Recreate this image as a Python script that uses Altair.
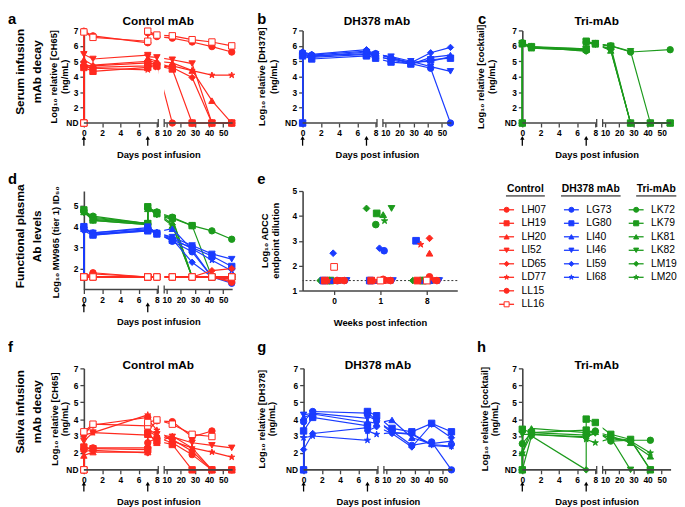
import altair as alt
import pandas as pd

FONT = "Liberation Sans"
RED = "#FF2A1F"
BLUE = "#1A3CFF"
GREEN = "#1C9A1C"
AXC = "#444444"
STAR = ("M0,-1L0.22,-0.31L0.95,-0.31L0.36,0.12L0.59,0.81L0,0.38L-0.59,0.81"
        "L-0.36,0.12L-0.95,-0.31L-0.22,-0.31Z")

# ---------------- animals ----------------
control_ids = ["LH07", "LH19", "LH20", "LI52", "LD65", "LD77", "LL15", "LL16"]
dh_ids = ["LG73", "LG80", "LI40", "LI46", "LI59", "LI68"]
tri_ids = ["LK72", "LK79", "LK81", "LK82", "LM19", "LM20"]
control_shapes = ["circle", "square", "triangle-up", "triangle-down", "diamond", STAR, "circle", "square"]
control_open = [False, False, False, False, False, False, False, True]
six_shapes = ["circle", "square", "triangle-up", "triangle-down", "diamond", STAR]
six_open = [False, False, False, False, False, False]

# sampling days (day 0 pre/post, day 7 pre/post second infusion)
days = [0, 0, 1, 7, 7, 8, 14, 28, 42, 56]
infusion_days = [0, 7]
x_tick_days = [0, 2, 4, 6, 8, 10, 20, 30, 40, 50]

# ---------------- a: serum, control mAb (log10 ng/mL, 1 = ND) ----------------
a_vals = {
    "LH07": [1, 4.7, 4.6, 4.7, 4.9, 4.8, 1, 1, 1, 1],
    "LH19": [1, 4.6, 4.35, 4.6, 4.8, 4.7, 4.5, 1, 1, 1],
    "LH20": [1, 5.1, 4.75, 5.0, 5.2, 5.0, 4.9, 4.4, 2.45, 1],
    "LI52": [1, 5.45, 5.15, 5.4, 5.3, 5.25, 5.1, 4.85, 1, 1],
    "LD65": [1, 4.75, 4.7, 4.9, 5.05, 4.9, 4.6, 3.95, 1, 1],
    "LD77": [1, 4.65, 4.55, 4.45, 4.7, 4.6, 4.7, 4.4, 4.1, 4.1],
    "LL15": [1, 6.95, 6.65, 6.2, 6.85, 6.6, 6.5, 6.25, 5.95, 5.6],
    "LL16": [1, 6.9, 6.55, 6.3, 6.95, 6.7, 6.65, 6.4, 6.25, 6.0],
}
# ---------------- b: serum, DH378 ----------------
b_vals = {
    "LG73": [1, 5.55, 5.4, 5.65, 5.6, 5.5, 5.2, 4.85, 4.55, 1],
    "LG80": [1, 5.35, 5.15, 5.35, 5.4, 5.2, 4.95, 4.85, 5.1, 5.2],
    "LI40": [1, 5.45, 5.35, 5.5, 5.55, 5.35, 5.1, 4.8, 5.25, 5.4],
    "LI46": [1, 5.5, 5.3, 5.6, 5.55, 5.45, 5.3, 5.0, 4.65, 4.35],
    "LI59": [1, 5.6, 5.45, 5.75, 5.7, 5.5, 5.25, 4.9, 5.55, 5.9],
    "LI68": [1, 5.4, 5.25, 5.45, 5.5, 5.3, 5.15, 4.95, 5.0, 5.3],
}
# ---------------- c: serum, Tri-mAb ----------------
c_vals = {
    "LK72": [1, 6.2, 5.9, 5.7, 6.25, 6.15, 6.0, 5.6, None, 5.75],
    "LK79": [1, 6.15, 5.95, 5.8, 6.3, 6.15, 5.95, 1, 1, 1],
    "LK81": [1, 6.2, 5.85, 5.75, 6.3, 6.1, 5.7, 1, 1, 1],
    "LK82": [1, 6.15, 5.9, 5.8, 6.25, 6.15, 6.0, 5.65, 1, 1],
    "LM19": [1, 6.2, 5.95, 5.65, 6.2, 6.1, 5.75, 1, 1, 1],
    "LM20": [1, 6.1, 5.85, 5.7, 6.25, 6.1, 5.8, 1, 1, 1],
}
# ---------------- d: plasma MW965 ID50 ----------------
d_control = {
    "LH07": [1.6, 1.6, 1.8, 1.6, 1.6, 1.6, 1.6, 1.6, 1.6, 1.6],
    "LH19": [1.6, 1.6, 1.6, 1.6, 1.6, 1.6, 1.6, 1.6, 1.6, 1.6],
    "LH20": [1.6, 1.6, 1.6, 1.6, 1.6, 1.6, 1.6, 1.6, 1.6, 1.5],
    "LI52": [1.6, 1.6, 1.6, 1.6, 1.6, 1.6, 1.6, 1.6, 1.6, 1.6],
    "LD65": [1.6, 1.6, 1.6, 1.6, 1.6, 1.6, 1.6, 1.6, 1.9, 2.0],
    "LD77": [1.6, 1.6, 1.6, 1.6, 1.6, 1.6, 1.6, 1.6, 1.6, 1.4],
    "LL15": [1.6, 1.6, 1.75, 1.6, 1.6, 1.6, 1.6, 1.6, 1.6, 1.35],
    "LL16": [1.6, 1.6, 1.6, 1.6, 1.6, 1.6, 1.6, 1.6, 1.6, 1.6],
}
d_dh = {
    "LG73": [1.6, 3.95, 3.7, 3.9, 3.95, 3.7, 3.3, 2.8, 1.6, 1.3],
    "LG80": [1.6, 4.0, 3.6, 3.8, 3.85, 3.65, 3.35, 3.0, 2.6, 2.1],
    "LI40": [1.6, 3.9, 3.65, 3.85, 3.9, 3.75, 3.9, 2.9, 1.6, 1.6],
    "LI46": [1.6, 3.85, 3.7, 3.95, 4.0, 3.7, 3.5, 3.1, 2.7, 2.45],
    "LI59": [1.6, 3.8, 3.6, 3.85, 3.9, 3.65, 3.4, 2.3, 1.6, 1.5],
    "LI68": [1.6, 3.95, 3.65, 3.8, 3.95, 3.7, 3.45, 2.95, 2.4, 1.9],
}
d_tri = {
    "LK72": [None, 4.75, 4.5, 4.15, 4.9, 4.7, 4.45, 4.05, 3.8, 3.4],
    "LK79": [None, 4.8, 4.35, 4.15, 4.95, 4.65, 4.4, 4.05, 1.6, 1.6],
    "LK81": [None, 4.7, 4.3, 4.1, 4.85, 4.6, 4.05, 1.6, 1.6, 1.6],
    "LK82": [None, 4.65, 4.45, 4.15, 4.9, 4.55, 4.35, 1.6, 1.6, 1.6],
    "LM19": [None, 4.8, 4.3, 4.1, 4.85, 4.7, 4.1, 1.6, 1.6, 1.6],
    "LM20": [None, 4.7, 4.4, 4.15, 4.9, 4.6, 4.4, 1.6, 1.6, 1.6],
}
# ---------------- e: ADCC endpoint (weeks 0, 1, 8) ----------------
weeks = ["0", "1", "8"]
adcc_lod = [1.4]
e_control = {
    "LH07": [1.4, 1.45, 1.55], "LH19": [1.4, 1.4, 1.4], "LH20": [1.4, 1.4, 2.5],
    "LI52": [1.4, 1.4, 1.4], "LD65": [1.4, 1.4, 3.1], "LD77": [1.4, 1.4, 2.85],
    "LL15": [1.4, 1.4, 1.4], "LL16": [1.95, 1.4, 1.4],
}
e_dh = {
    "LG73": [1.4, 2.6, 1.4], "LG80": [1.4, 1.4, 3.0], "LI40": [1.4, 1.4, 1.4],
    "LI46": [1.4, 1.4, 1.4], "LI59": [2.5, 2.7, 1.4], "LI68": [1.4, 1.4, 1.4],
}
e_tri = {
    "LK72": [1.4, 3.65, 1.4], "LK79": [1.4, 4.1, 1.4], "LK81": [1.4, 4.05, 1.4],
    "LK82": [1.4, 4.3, 1.4], "LM19": [1.4, 4.3, 1.4], "LM20": [1.4, 3.8, 1.4],
}
e_jitter = {
    "LH07": 0.06, "LH19": -0.2, "LH20": 0.06, "LI52": 0.15, "LD65": 0.06, "LD77": -0.13,
    "LL15": 0.22, "LL16": 0.0,
    "LG73": 0.08, "LG80": -0.23, "LI40": -0.05, "LI46": 0.27, "LI59": -0.02, "LI68": 0.13,
    "LK72": -0.1, "LK79": -0.08, "LK81": 0.06, "LK82": 0.24, "LM19": -0.3, "LM20": 0.09,
}
# ---------------- f: saliva, control ----------------
f_vals = {
    "LH07": [1, 2.2, 2.3, 2.3, 2.6, 2.9, 2.6, 1.9, 1, 1],
    "LH19": [1, 2.35, 2.25, 2.2, 3.1, 2.7, 2.5, 1, 1, 1],
    "LH20": [1, 1.85, 2.05, 2.05, 3.2, 2.6, 3.0, 2.3, 1, 1],
    "LI52": [1, 2.7, 3.2, 3.05, 3.4, 3.1, 2.95, 2.6, 2.45, 2.3],
    "LD65": [1, 2.1, 2.15, 2.0, 3.3, 3.0, 2.8, 2.1, 1, 1],
    "LD77": [1, 3.05, 3.2, 4.25, 4.0, 3.35, 2.7, 2.3, 2.05, 1.75],
    "LL15": [1, 3.1, 3.65, 4.1, 3.3, 3.9, 3.85, 2.95, 3.3, None],
    "LL16": [1, 3.25, 3.7, 3.6, 3.8, 3.95, 3.7, 3.1, 2.97, None],
}
# ---------------- g: saliva, DH378 ----------------
g_vals = {
    "LG73": [1, 3.85, 4.45, 4.35, 4.4, 3.9, 3.3, 2.45, 2.65, 1],
    "LG80": [1, 3.3, 4.1, 3.6, 4.45, 4.2, 3.45, 3.25, 3.75, 3.25],
    "LI40": [1, 4.1, 4.3, 3.8, 3.85, 3.75, 3.95, 2.9, 2.55, 2.7],
    "LI46": [1, 4.25, 4.35, 4.05, 4.2, 3.9, 3.2, 3.1, 2.45, 2.35],
    "LI59": [1, 2.2, 3.15, 3.5, 3.3, 3.55, 3.15, 2.35, 3.7, 2.9],
    "LI68": [1, 2.9, 3.0, 2.75, 3.3, 3.1, 3.2, 3.15, 2.5, 2.4],
}
# ---------------- h: saliva, Tri-mAb ----------------
h_vals = {
    "LK72": [1, 2.55, 3.2, 3.05, 3.1, 3.3, 2.7, 2.75, 2.75, None],
    "LK79": [1, 3.4, 3.2, 3.35, 4.0, 3.8, 3.1, 2.8, 1, None],
    "LK81": [1, 2.0, 3.45, 3.2, 3.3, 3.25, 3.0, 2.6, 1.8, None],
    "LK82": [1, 3.1, 3.1, 2.95, 2.95, 3.15, 2.9, 1, 1, None],
    "LM19": [1, 1, 3.0, 1, 3.0, 3.2, 2.9, 2.75, 1, None],
    "LM20": [1, 2.0, 3.1, 2.9, 2.8, 2.6, 2.85, 2.7, 2.0, None],
}

# ---------------- broken x axis (0-8 wide, 10-56 compressed) ----------------
GAP = 1.07
K = 0.155
XMAX = 16.3
x_break = [8.15, 8.8]


def pos(d):
    return float(d) if d <= 8 else 8 + GAP + (d - 10) * K


x_tick_pos = [pos(d) for d in x_tick_days]
x_label_expr = ("datum.value < 8.5 ? format(datum.value, 'd') : "
                f"format(round((datum.value - {8 + GAP}) / {K} + 10), 'd')")


def rows_for(vals, ids, shapes, opens, color):
    out = []
    for i, a in enumerate(ids):
        for j, (d, v) in enumerate(zip(days, vals[a])):
            if v is None:
                continue
            out.append(dict(animal=a, k=j, x=pos(d), y=v, shape=shapes[i],
                            stroke=color, fill=("white" if opens[i] else color)))
    return out


def text_layer(txt, x, y, size, weight="bold", align="left", baseline="alphabetic",
               angle=0, opacity=1.0):
    kw = dict(font=FONT, fontWeight=weight, fontSize=size, align=align,
              baseline=baseline, angle=angle, opacity=opacity, color="black")
    return alt.Chart(pd.DataFrame({"t": [txt]})).mark_text(**kw).encode(
        x=alt.value(x), y=alt.value(y), text="t:N")


def vtitle(lines, xs, yc, size):
    return [text_layer(t, x, yc, size, align="center", baseline="middle", angle=270)
            for t, x in zip(lines, xs)]


def line_panel(df, w, h, ydom, yvals, ylab_expr, ytitle, ytitle_xs, letter, letter_x,
               letter_y, head=None, head_y=None, row_title=None, row_xs=None, row_y=None,
               arrow_y=15, ytitle_y=None):
    X = alt.X("x:Q", scale=alt.Scale(domain=[0, XMAX], nice=False, zero=False),
              axis=alt.Axis(values=x_tick_pos, labelExpr=x_label_expr,
                            title="Days post infusion", domain=False, titleY=35,
                            titleBaseline="alphabetic", labelFlush=False))
    Y = alt.Y("y:Q", scale=alt.Scale(domain=ydom, nice=False, zero=False),
              axis=alt.Axis(values=yvals, labelExpr=ylab_expr, title=None))
    lines = alt.Chart(df).mark_line(strokeWidth=1.2).encode(
        x=X, y=Y, detail="animal:N", order="k:Q", stroke=alt.Stroke("stroke:N", scale=None))
    brk = alt.Chart(pd.DataFrame({"x": [x_break[0]], "x2": [x_break[1]]})).mark_rect(
        color="white").encode(x=X, x2="x2:Q", y=alt.value(-3), y2=alt.value(h + 1))
    pts = alt.Chart(df).mark_point(filled=True, size=42, strokeWidth=1, opacity=1).encode(
        x=X, y=Y, shape=alt.Shape("shape:N", scale=None),
        fill=alt.Fill("fill:N", scale=None), stroke=alt.Stroke("stroke:N", scale=None))
    seg = alt.Chart(pd.DataFrame({"x": [0, x_break[1]], "x2": [x_break[0], XMAX]})).mark_rule(
        color=AXC, strokeWidth=1.6).encode(x=X, x2="x2:Q", y=alt.value(h))
    segend = alt.Chart(pd.DataFrame({"x": [x_break[0], x_break[1]]})).mark_rule(
        color=AXC, strokeWidth=1.3).encode(x=X, y=alt.value(h - 4), y2=alt.value(h + 4))
    arr = pd.DataFrame({"x": [pos(d) for d in infusion_days]})
    heads = alt.Chart(arr).mark_point(shape="triangle-up", filled=True, color="black",
                                      size=20, opacity=1).encode(x=X, y=alt.value(h + arrow_y))
    stems = alt.Chart(arr).mark_rule(color="black", strokeWidth=1.3).encode(
        x=X, y=alt.value(h + arrow_y + 1), y2=alt.value(h + arrow_y + 8))
    layers = [lines, brk, pts, seg, segend, heads, stems,
              text_layer(letter, letter_x, letter_y, 15)]
    layers += vtitle(ytitle, ytitle_xs, h / 2 if ytitle_y is None else ytitle_y, 9.5)
    if head is not None:
        layers.append(text_layer(head, w / 2, head_y, 12, align="center"))
    if row_title is not None:
        layers += vtitle(row_title, row_xs, row_y, 12)
    return alt.layer(*layers).properties(width=w, height=h)


nd_expr = "datum.value == 1 ? 'ND' : format(datum.value, 'd')"
seven = [1, 2, 3, 4, 5, 6, 7]

df_a = pd.DataFrame(rows_for(a_vals, control_ids, control_shapes, control_open, RED))
df_b = pd.DataFrame(rows_for(b_vals, dh_ids, six_shapes, six_open, BLUE))
df_c = pd.DataFrame(rows_for(c_vals, tri_ids, six_shapes, six_open, GREEN))
df_d = pd.DataFrame(rows_for(d_tri, tri_ids, six_shapes, six_open, GREEN)
                    + rows_for(d_dh, dh_ids, six_shapes, six_open, BLUE)
                    + rows_for(d_control, control_ids, control_shapes, control_open, RED))
df_f = pd.DataFrame(rows_for(f_vals, control_ids, control_shapes, control_open, RED))
df_g = pd.DataFrame(rows_for(g_vals, dh_ids, six_shapes, six_open, BLUE))
df_h = pd.DataFrame(rows_for(h_vals, tri_ids, six_shapes, six_open, GREEN))

W = 151
H1 = 94
H2 = 100
H3 = 103

pa = line_panel(df_a, W, H1, [1, 7], seven, nd_expr,
                ["Log₁₀ relative [CH65]", "(ng/mL)"], [-30, -19], "a", -77, -7,
                head="Control mAb", head_y=-6,
                row_title=["Serum infusion", "mAb decay"], row_xs=[-65, -47], row_y=42)
pb = line_panel(df_b, W, H1, [1, 7], seven, nd_expr,
                ["Log₁₀ relative [DH378]", "(ng/mL)"], [-41, -29], "b", -46, -7,
                head="DH378 mAb", head_y=-6)
pc = line_panel(df_c, W, H1, [1, 7], seven, nd_expr,
                ["Log₁₀ relative [cocktail]", "(ng/mL)"], [-42, -31], "c", -45, -7,
                head="Tri-mAb", head_y=-6)

pd_ = line_panel(df_d, W, H2, [1, 5.7], [2, 3, 4, 5], "format(datum.value, 'd')",
                 ["Log₁₀ MW965 (tier 1) ID₅₀"], [-28], "d", -77, -7,
                 row_title=["Functional plasma", "Ab levels"], row_xs=[-65, -47], row_y=46,
                 ytitle_y=52)

# ----- e scatter -----
e_rows = []
for grp, ids, shapes, opens, color in [(e_tri, tri_ids, six_shapes, six_open, GREEN),
                                       (e_dh, dh_ids, six_shapes, six_open, BLUE),
                                       (e_control, control_ids, control_shapes, control_open, RED)]:
    for i, a in enumerate(ids):
        for gi, v in enumerate(grp[a]):
            e_rows.append(dict(animal=a, x=gi + e_jitter[a], y=v, shape=shapes[i],
                               stroke=color, fill=("white" if opens[i] else color)))
df_e = pd.DataFrame(e_rows)
EW, EH = 157, 101
EX = alt.X("x:Q", scale=alt.Scale(domain=[-0.68, 2.66], nice=False, zero=False),
           axis=alt.Axis(values=[0, 1, 2], labelExpr="['0','1','8'][datum.value]",
                         title="Weeks post infection", titleY=35, titleBaseline="alphabetic"))
EY = alt.Y("y:Q", scale=alt.Scale(domain=[1, 5], nice=False, zero=False),
           axis=alt.Axis(values=[1, 2, 3, 4, 5], format="d", title=None))
e_lod = alt.Chart(pd.DataFrame({"y": adcc_lod})).mark_rule(
    color="#333", strokeDash=[2, 2], strokeWidth=1).encode(y=EY)
e_pts = alt.Chart(df_e).mark_point(filled=True, size=46, strokeWidth=1, opacity=1).encode(
    x=EX, y=EY, shape=alt.Shape("shape:N", scale=None),
    fill=alt.Fill("fill:N", scale=None), stroke=alt.Stroke("stroke:N", scale=None))
pe = alt.layer(e_lod, e_pts, text_layer("e", -46, -7, 15),
               *vtitle(["Log₁₀ ADCC", "endpoint dilution"], [-38, -27], EH / 2, 9.5)
               ).properties(width=EW, height=EH)

# ----- legend -----
leg_groups = [("Control", control_ids, control_shapes, control_open, RED),
              ("DH378 mAb", dh_ids, six_shapes, six_open, BLUE),
              ("Tri-mAb", tri_ids, six_shapes, six_open, GREEN)]
header_halfw = [0.3, 0.46, 0.31]
header_off = [0.29, 0.3, 0.31]
leg_rows, head_rows = [], []
for ci, (hname, ids, shapes, opens, color) in enumerate(leg_groups):
    head_rows.append(dict(x=ci + header_off[ci], x1=ci + header_off[ci] - header_halfw[ci],
                          x2=ci + header_off[ci] + header_halfw[ci], t=hname))
    for ri, a in enumerate(ids):
        leg_rows.append(dict(name=a, x=ci, xa=ci - 0.115, xb=ci + 0.115, r=ri,
                             shape=shapes[ri], stroke=color,
                             fill=("white" if opens[ri] else color)))
df_leg = pd.DataFrame(leg_rows)
df_head = pd.DataFrame(head_rows)
LW, LH = 190, 118
LSCALE = alt.Scale(domain=[-0.29, 2.6], nice=False, zero=False)
LX = alt.X("x:Q", scale=LSCALE, axis=None)
LY = alt.Y("r:Q", scale=alt.Scale(domain=[-1.39, 7.22], nice=False, zero=False,
                                  reverse=True), axis=None)
leg_line = alt.Chart(df_leg).mark_rule(strokeWidth=1.3).encode(
    x=alt.X("xa:Q", scale=LSCALE, axis=None), x2="xb:Q", y=LY,
    stroke=alt.Stroke("stroke:N", scale=None))
leg_pts = alt.Chart(df_leg).mark_point(filled=True, size=26, strokeWidth=1, opacity=1).encode(
    x=LX, y=LY, shape=alt.Shape("shape:N", scale=None),
    fill=alt.Fill("fill:N", scale=None), stroke=alt.Stroke("stroke:N", scale=None))
leg_txt = alt.Chart(df_leg).mark_text(font=FONT, fontSize=10.5, align="left",
                                      baseline="middle", dx=15, color="black").encode(
    x=LX, y=LY, text="name:N")
leg_head = alt.Chart(df_head).mark_text(font=FONT, fontSize=10.5, fontWeight="bold",
                                        align="center", baseline="middle",
                                        color="black").encode(x=LX, y=alt.value(-2), text="t:N")
leg_ul = alt.Chart(df_head).mark_rule(color="black", strokeWidth=1).encode(
    x=alt.X("x1:Q", scale=LSCALE, axis=None), x2="x2:Q", y=alt.value(5))
leg_anchor = text_layer("d", -10, -7, 15, opacity=0)
pleg = alt.layer(leg_line, leg_pts, leg_txt, leg_head, leg_ul, leg_anchor).properties(
    width=LW, height=LH)

pf = line_panel(df_f, W, H3, [1, 7], seven, nd_expr,
                ["Log₁₀ relative [CH65]", "(ng/mL)"], [-29, -19], "f", -77, -17,
                head="Control mAb", head_y=1,
                row_title=["Saliva infusion", "mAb decay"], row_xs=[-65, -47], row_y=44,
                arrow_y=14)
pg = line_panel(df_g, W, H3, [1, 7], seven, nd_expr,
                ["Log₁₀ relative [DH378]", "(ng/mL)"], [-42, -32], "g", -47, -17,
                head="DH378 mAb", head_y=1, arrow_y=14)
ph = line_panel(df_h, W, H3, [1, 7], seven, nd_expr,
                ["Log₁₀ relative [cocktail]", "(ng/mL)"], [-38, -28], "h", -46, -17,
                head="Tri-mAb", head_y=1, arrow_y=14)

row1 = alt.hconcat(pa, pb, pc, spacing=20)
row2 = alt.hconcat(pd_, pe, pleg, spacing=20)
row3 = alt.hconcat(pf, pg, ph, spacing=20)

chart = alt.vconcat(row1, row2, row3, spacing=13).properties(
    padding={"left": 0, "top": 0, "right": 0, "bottom": 0}
).configure_view(stroke=None).configure_axis(
    labelFont=FONT, titleFont=FONT, labelFontWeight="bold", titleFontWeight="bold",
    labelFontSize=8.5, titleFontSize=9.5, grid=False, domainColor=AXC, tickColor=AXC,
    labelColor="black", titleColor="black", domainWidth=1.6, tickWidth=1.3, tickSize=4,
    labelPadding=2
)

chart.save("out.html", embed_options={"renderer": "svg", "actions": False})
